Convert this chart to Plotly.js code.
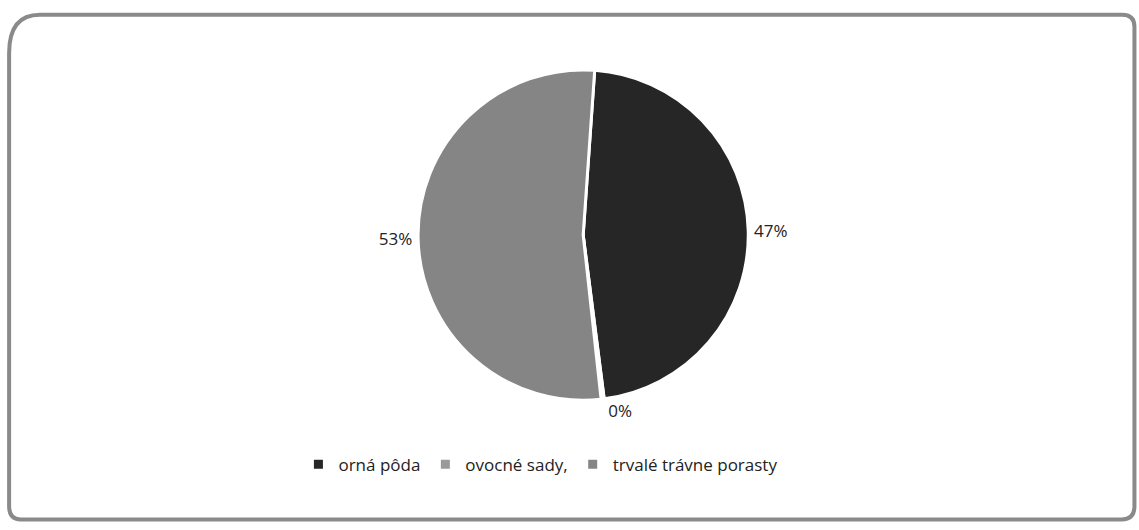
<!DOCTYPE html>
<html>
<head>
<meta charset="utf-8">
<script src="https://cdn.plot.ly/plotly-3.0.1.min.js"></script>
<style>html,body{margin:0;padding:0;background:#fff;}#chart{width:1139px;height:530px;}</style>
</head>
<body>
<div id="chart"></div>
<script>
const categories = ['orná pôda', 'ovocné sady,', 'trvalé trávne porasty'];
const values = [47, 0.3, 53];
const colors = ['#262626', '#9a9a9a', '#858585'];

const trace = {
  type: 'pie',
  labels: categories,
  values: values,
  sort: false,
  direction: 'clockwise',
  rotation: 4,
  marker: {colors: colors, line: {color: '#ffffff', width: 3}},
  texttemplate: '%{percent:.0%}',
  textposition: 'outside',
  textfont: {family: 'Open Sans, Liberation Sans, sans-serif', size: 17, color: '#222'},
  outsidetextfont: {family: 'Open Sans, Liberation Sans, sans-serif', size: 17, color: '#222'},
  domain: {x: [0.367, 0.657], y: [0.245, 0.868]},
  hoverinfo: 'label+percent'
};

const layout = {
  width: 1139, height: 530,
  margin: {l: 0, r: 0, t: 0, b: 0},
  paper_bgcolor: '#ffffff',
  showlegend: true,
  legend: {
    orientation: 'h', x: 0.262, xanchor: 'left', y: 0.123, yanchor: 'middle',
    font: {family: 'Open Sans, Liberation Sans, sans-serif', size: 17, color: '#222'},
    itemwidth: 30, traceorder: 'normal'
  },
  shapes: [{
    type: 'path', xref: 'paper', yref: 'paper',
    path: 'M 0.035 0.972 L 0.985 0.972 Q 0.996 0.972 0.996 0.95 L 0.996 0.045 Q 0.996 0.02 0.985 0.02 L 0.018 0.02 Q 0.008 0.02 0.008 0.045 L 0.008 0.9 Q 0.008 0.972 0.035 0.972 Z',
    line: {color: '#8a8a8a', width: 4}
  }]
};

Plotly.newPlot('chart', [trace], layout, {displayModeBar: false, staticPlot: true});
</script>
</body>
</html>
